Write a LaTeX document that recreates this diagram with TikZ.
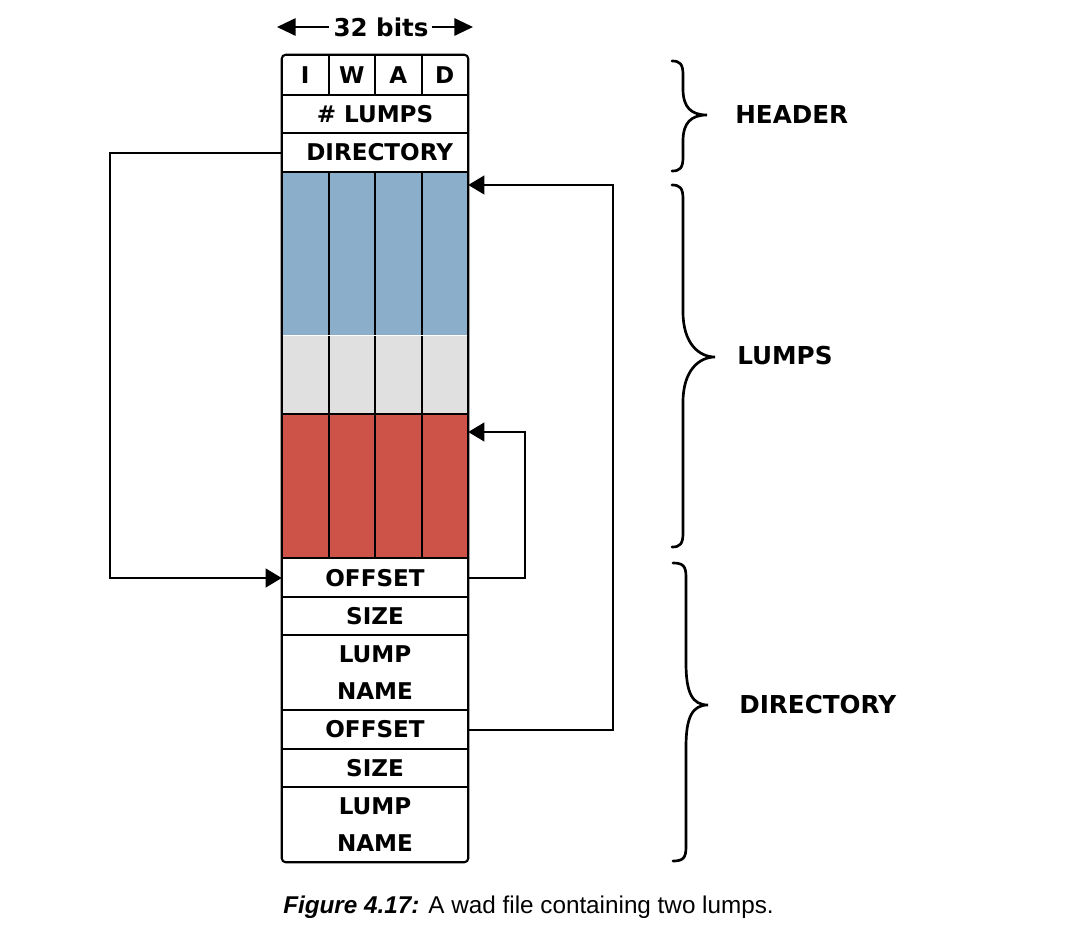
\documentclass[tikz,border=0pt]{standalone}
\usepackage{fontspec}
\setmainfont{Liberation Sans}
\newfontfamily\dvs{DejaVu Sans}
\usetikzlibrary{arrows.meta}
\definecolor{lumpblue}{HTML}{8BAECB}
\definecolor{lumpgray}{HTML}{E0E0E0}
\definecolor{lumpred}{HTML}{CD5247}
\newcommand\mybrace[7]{%
  \draw[brc] (#1,#4) .. controls (#2-3,#4) and (#2,#4+3) .. (#2,#4+14)
    -- (#2,#5-#7) .. controls (#2,#5-0.3*#7) and (#3-16,#5) .. (#3,#5)
    .. controls (#3-16,#5) and (#2,#5+0.3*#7) .. (#2,#5+#7)
    -- (#2,#6-14) .. controls (#2,#6-3) and (#2-3,#6) .. (#1,#6);}
\begin{document}
\begin{tikzpicture}[x=0.75pt,y=-0.75pt,
  txt/.style={font=\dvs\bfseries\fontsize{17.3}{20}\selectfont, inner sep=0pt},
  lbl/.style={font=\dvs\bfseries\fontsize{18.5}{22}\selectfont, inner sep=0pt, anchor=west},
  row/.style={txt, minimum width=139.5pt, align=center},
  cell/.style={txt, minimum width=34.875pt, minimum height=30pt},
  sep/.style={line width=1.5pt},
  outer/.style={line width=1.6pt, rounded corners=3pt},
  conn/.style={line width=1.5pt, -{Triangle[length=12pt,width=14pt]}},
  brc/.style={line width=2pt, line cap=round},
  bitarr/.style={line width=1.5pt, -{Triangle[length=14pt,width=13pt]}}]
\useasboundingbox (0,0) rectangle (1080,942);

% title
\node[txt, font=\dvs\bfseries\fontsize{18.4}{22}\selectfont] (bits) at (381,27) {32 bits};
\coordinate (bl) at (277,27);
\coordinate (br) at (473,27);
\draw[bitarr] (bits.west) ++(-4,0) -- (bl);
\draw[bitarr] (bits.east) ++(3,0) -- (br);

% header row cells
\node[cell] (cI) at (305.25,75) {I};
\node[cell] (cW) at (351.75,75) {W};
\node[cell] (cA) at (398.25,75) {A};
\node[cell] (cD) at (444.75,75) {D};
\node[row, minimum height=28.5pt] (numl) at (375,114) {\# LUMPS};
\node[row, minimum height=29.25pt] (dirn) at (375,152.5) {\hspace*{7pt}DIRECTORY};

% lump areas
\node[row, minimum height=123pt, fill=lumpblue] (blue) at (375,254) {};
\node[row, minimum height=58.5pt, fill=lumpgray] (gray) at (375,375) {};
\node[row, minimum height=108pt, fill=lumpred] (red) at (375,486) {};

% directory rows
\node[row, minimum height=29.25pt] (off1) at (375,578) {OFFSET};
\node[row, minimum height=27.75pt] (size1) at (375,616) {SIZE};
\node[row, minimum height=57pt, font=\dvs\bfseries\fontsize{17.3}{27.75}\selectfont] (name1) at (375,673) {LUMP\\NAME};
\node[row, minimum height=28.5pt] (off2) at (375,729.5) {OFFSET};
\node[row, minimum height=28.5pt] (size2) at (375,768) {SIZE};
\node[row, minimum height=56.25pt, font=\dvs\bfseries\fontsize{17.3}{27.75}\selectfont] (name2) at (375,824.5) {LUMP\\NAME};

% column dividers
\foreach \x in {328.5,375,421.5} {
  \draw[sep] (\x,55) -- (\x,95);
  \draw[sep] (\x,172) -- (\x,558);
}
% row separators
\foreach \n in {numl,dirn,blue,red,off1,size1,name1,off2,size2,name2}
  \draw[sep] (\n.north west) -- (\n.north east);
\draw[line width=0.8pt, white] (gray.north west) ++(1,0) -- ([xshift=-1]gray.north east);
% outer frame
\draw[outer] (cI.north west) rectangle (name2.south east);

% connectors
\coordinate (c1) at (110,400);
\draw[conn] (dirn.west) -| (c1) |- (off1.west);
\coordinate (c2) at (525,432);
\draw[conn] (off1.east) -| (c2) -- (c2 -| red.east);
\coordinate (c3) at (613,185);
\draw[conn] (off2.east) -| (c3) -- (c3 -| blue.east);

% braces
\mybrace{672}{683}{707}{61}{115}{171}{26}
\mybrace{672}{683}{715}{185}{357}{547}{45}
\mybrace{673}{686}{708}{563}{705}{861}{42}

\node[lbl] (hdr) at (735,115) {HEADER};
\node[lbl] (lmp) at (737,356) {LUMPS};
\node[lbl] (dir) at (739,705) {DIRECTORY};

% caption
\node[anchor=west, inner sep=0pt, font=\fontsize{18.2}{22}\selectfont] (cap) at (283,907)
  {\textbf{\textit{Figure 4.17:}} A wad file containing two lumps.};
\end{tikzpicture}
\end{document}
